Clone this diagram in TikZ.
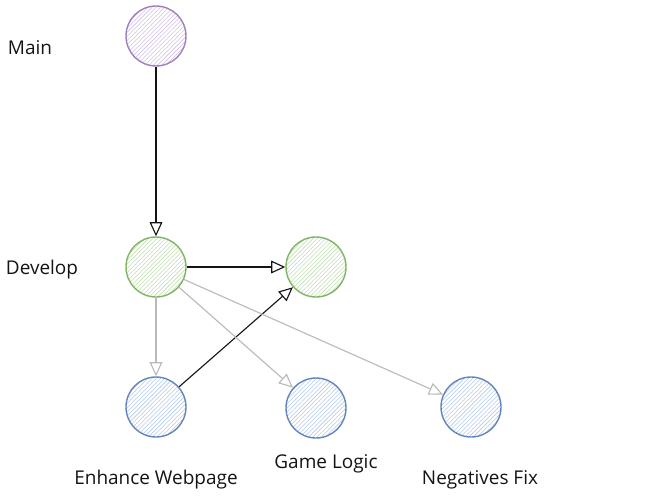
\documentclass[tikz,border=0pt]{standalone}
\usepackage{fontspec}
\setmainfont{Open Sans}
\usepackage{tikz}
\usetikzlibrary{arrows.meta, positioning, patterns}
\definecolor{mypurple}{RGB}{160,128,190}
\definecolor{mygreen}{RGB}{128,180,100}
\definecolor{myblue}{RGB}{100,132,190}
\definecolor{hdrpurple}{RGB}{210,195,228}
\definecolor{hdrgreen}{RGB}{195,222,180}
\definecolor{hdrblue}{RGB}{180,202,235}
\definecolor{mygray}{RGB}{185,185,185}
\definecolor{mydark}{RGB}{20,20,20}
\tikzset{
  commit/.style={circle, minimum size=1.5cm, line width=1pt},
  maincommit/.style={commit, draw=mypurple, pattern=north east lines, pattern color=hdrpurple},
  devcommit/.style={commit, draw=mygreen, pattern=north east lines, pattern color=hdrgreen},
  featcommit/.style={commit, draw=myblue, pattern=north east lines, pattern color=hdrblue},
  label/.style={font=\fontsize{13.5}{16}\selectfont, text=mydark},
  arrow/.style={-{Triangle[open, length=10pt, width=9pt]}, thick, color=mydark},
  grayarrow/.style={-{Triangle[open, length=10pt, width=9pt]}, thick, color=mygray}
}
\begin{document}
\begin{tikzpicture}
  \useasboundingbox (0,0) rectangle (16.4,-12.525);
  \node[maincommit] (main) at (3.9, -0.9) {};
  \node[devcommit] (develop) at (3.9, -6.675) {};
  \node[devcommit] (merge) at (7.9, -6.675) {};
  \node[featcommit] (enhance) at (3.9, -10.175) {};
  \node[featcommit] (game) at (7.9, -10.2) {};
  \node[featcommit] (negatives) at (11.775, -10.175) {};

  % Labels
  \node[label] (mainlbl) at (0.75, -1.2) {Main};
  \node[label] (devlbl) at (1.05, -6.75) {Develop};
  \node[label] (enhlbl) at (3.9, -12.0) {Enhance Webpage};
  \node[label] (gamelbl) at (8.15, -11.6) {Game Logic};
  \node[label] (neglbl) at (12.0, -12.0) {Negatives Fix};

  % Paths
  \draw[arrow] (main) -- (develop);
  \draw[arrow] (develop) -- (merge);
  \draw[arrow] (enhance) -- (merge);
  \draw[grayarrow] (develop) -- (enhance);
  \draw[grayarrow] (develop) -- (game);
  \draw[grayarrow] (develop) -- (negatives);
\end{tikzpicture}
\end{document}
